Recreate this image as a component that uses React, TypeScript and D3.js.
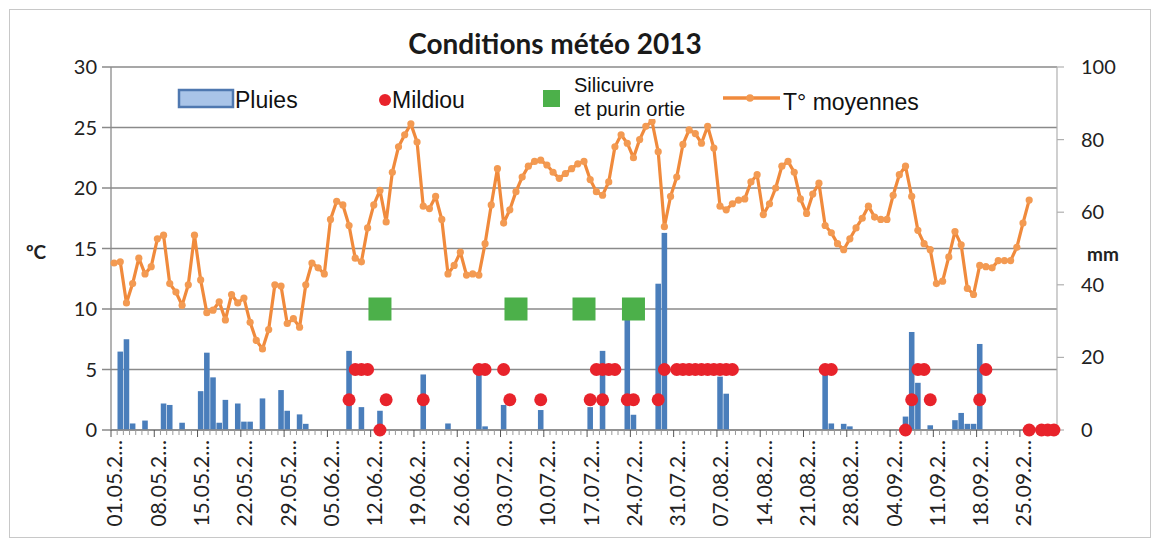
import React from 'react';
import * as d3 from 'd3';

// ---- data ----
const startYear = 2013;
const startMonth = 4; // May (0-based)
const startDay = 1;
const nDays = 153; // 01.05 -> 30.09

// daily mean temperature (°C), from 01.05
const temperatures = [
  13.8, 13.9, 10.5, 12.1, 14.2, 12.9, 13.5, 15.8, 16.1, 12.1,
  11.4, 10.3, 12.0, 16.1, 12.4, 9.7, 9.9, 10.6, 9.1, 11.2,
  10.5, 10.9, 8.9, 7.4, 6.7, 8.3, 12.0, 11.9, 8.8, 9.2,
  8.5, 12.0, 13.8, 13.4, 12.9, 17.4, 18.9, 18.6, 16.9, 14.2,
  13.9, 16.7, 18.6, 19.8, 17.2, 21.3, 23.4, 24.4, 25.3, 23.8,
  18.5, 18.3, 19.3, 17.4, 12.9, 13.6, 14.7, 12.8, 12.9, 12.8,
  15.4, 18.6, 21.6, 17.1, 18.2, 19.7, 20.9, 21.8, 22.2, 22.3,
  21.9, 21.3, 20.8, 21.2, 21.6, 22.0, 22.2, 20.7, 19.7, 19.4,
  20.5, 23.4, 24.4, 23.7, 22.5, 24.0, 25.1, 25.5, 23.0, 16.8,
  19.3, 20.9, 23.6, 24.8, 24.5, 23.7, 25.1, 23.3, 18.5, 18.2,
  18.7, 19.0, 19.1, 20.5, 21.1, 17.8, 18.7, 20.0, 21.8, 22.2,
  21.3, 19.1, 17.9, 19.5, 20.4, 16.9, 16.3, 15.4, 14.9, 15.8,
  16.7, 17.5, 18.5, 17.6, 17.4, 17.4, 19.4, 21.1, 21.8, 19.3,
  16.5, 15.4, 14.9, 12.1, 12.3, 14.3, 16.4, 15.3, 11.7, 11.2,
  13.6, 13.5, 13.4, 14.0, 14.0, 14.0, 15.1, 17.1, 19.0,
];

// rain (mm): day index and amount
const rainDays = [
  1, 2, 3, 5, 8, 9, 11, 14, 15, 16, 17, 18, 20, 21, 22, 24, 27, 28, 30, 31,
  38, 40, 43, 50, 54, 59, 60, 63, 69, 77, 79, 83, 84, 88, 89, 98, 99,
  115, 116, 118, 119, 128, 129, 130, 132, 136, 137, 138, 139, 140,
];
const rainMm = [
  21.6, 25.0, 1.8, 2.6, 7.3, 6.9, 2.0, 10.7, 21.3, 14.5, 2.0, 8.3, 7.3, 2.3, 2.3, 8.7, 11.0, 5.3, 4.3, 1.7,
  21.8, 6.3, 5.3, 15.3, 1.8, 15.3, 1.0, 6.9, 5.5, 6.3, 21.8, 31.7, 4.2, 40.3, 54.3, 14.7, 10.0,
  16.7, 1.8, 1.7, 1.0, 3.7, 27.0, 13.0, 1.3, 2.7, 4.7, 1.7, 1.7, 23.7,
];

// mildiou events (day index, level on °C axis)
const mildiouDays = [
  38, 39, 40, 41, 43, 44, 50, 59, 60, 63, 64, 69, 77, 78, 79, 79, 80, 81, 83, 84, 88, 89,
  91, 92, 93, 94, 95, 96, 97, 98, 99, 100, 115, 116, 128, 129, 130, 131, 132, 140, 141,
  148, 150, 151, 152,
];
const mildiouLevels = [
  2.5, 5, 5, 5, 0, 2.5, 2.5, 5, 5, 5, 2.5, 2.5, 2.5, 5, 5, 2.5, 5, 5, 2.5, 2.5, 2.5, 5,
  5, 5, 5, 5, 5, 5, 5, 5, 5, 5, 5, 5, 0, 2.5, 5, 5, 2.5, 2.5, 5,
  0, 0, 0, 0,
];

// silicuivre et purin ortie treatments
const silicuivreDays = [43, 65, 76, 84];
const silicuivreLevel = 10;

const leftTicks = [0, 5, 10, 15, 20, 25, 30];
const rightTicks = [0, 20, 40, 60, 80, 100];
const labelEvery = 7;

const title = 'Conditions météo 2013';
const legendLabels = ['Pluies', 'Mildiou', 'Silicuivre', 'et purin ortie', 'T° moyennes'];

const pad2 = (n: number) => (n < 10 ? '0' + n : '' + n);

export default function App() {
  const W = 1160;
  const H = 547;
  const L = 111, R = 1057, T = 67, B = 430;

  const days = d3.range(nDays);
  const x = d3.scaleBand<number>().domain(days).range([L, R]).paddingInner(0.1).paddingOuter(0.05);
  const cx = (i: number) => (x(i) as number) + x.bandwidth() / 2;
  const yT = d3.scaleLinear().domain([0, 30]).range([B, T]);
  const yR = d3.scaleLinear().domain([0, 100]).range([B, T]);

  const line = d3.line<number>().x((_, i) => cx(i)).y((d) => yT(d));

  const dateOf = (i: number) => new Date(startYear, startMonth, startDay + i);

  const orange = '#F08A3C';
  const orangeMarker = '#F39A52';
  const blue = '#4A7EBB';
  const red = '#E8232B';
  const green = '#4CB04A';
  const grid = '#8a8a8a';
  const labelFont = 'Lato, "Open Sans", sans-serif';
  const legendFont = '"Liberation Sans", Arial, sans-serif';

  return (
    <svg width={W} height={H} style={{ position: 'absolute', left: 0, top: 0, background: '#fff' }}>
      <rect x={0} y={0} width={W} height={H} fill="#fff" />
      <rect x={9.5} y={9.5} width={1141} height={528} fill="none" stroke="#c8c8c8" />

      {/* title */}
      <text x={555} y={54} textAnchor="middle" fontFamily={labelFont} fontWeight="bold" fontSize={28} fill="#1a1a1a">
        {title}
      </text>

      {/* gridlines */}
      {leftTicks.map((t) => (
        <line key={'g' + t} x1={L - 9} x2={R} y1={yT(t)} y2={yT(t)} stroke={grid} strokeWidth={1.3} />
      ))}
      {/* axis lines */}
      <line x1={L} x2={L} y1={T} y2={B} stroke={grid} strokeWidth={1.3} />
      <line x1={R} x2={R} y1={T} y2={B} stroke="#b0b0b0" strokeWidth={1.2} />
      {rightTicks.map((t) => (
        <line key={'rt' + t} x1={R} x2={R + 7} y1={yR(t)} y2={yR(t)} stroke="#b0b0b0" strokeWidth={1.2} />
      ))}

      {/* tick labels */}
      {leftTicks.map((t) => (
        <text key={'lt' + t} x={97} y={yT(t)} dy="0.35em" textAnchor="end" fontFamily={labelFont} fontSize={20} fill="#222">
          {t}
        </text>
      ))}
      {rightTicks.map((t) => (
        <text key={'rl' + t} x={1081} y={yR(t)} dy="0.35em" textAnchor="start" fontFamily={labelFont} fontSize={20} fill="#222">
          {t}
        </text>
      ))}
      <text x={26} y={252} dy="0.35em" fontFamily={labelFont} fontWeight="bold" fontSize={19} fill="#222">ºC</text>
      <text x={1087} y={254} dy="0.35em" fontFamily={labelFont} fontWeight="bold" fontSize={19} fill="#222">mm</text>

      {/* rain bars */}
      {rainDays.map((d, k) => (
        <rect key={'r' + d} x={x(d)} y={yR(rainMm[k])} width={x.bandwidth()} height={B - yR(rainMm[k])} fill={blue} />
      ))}

      {/* x axis */}
      <line x1={L} x2={R} y1={B} y2={B} stroke={grid} strokeWidth={1.3} />
      {days.map((i) => (
        <line key={'mt' + i} x1={L + i * x.step()} x2={L + i * x.step()} y1={B} y2={B + (i % labelEvery === 0 ? 7 : 5)} stroke={i % labelEvery === 0 ? '#555' : '#9a9a9a'} strokeWidth={1} />
      ))}
      {days.filter((i) => i % labelEvery === 0).map((i) => {
        const d = dateOf(i);
        const lab = pad2(d.getDate()) + '.' + pad2(d.getMonth() + 1) + '.2…';
        return (
          <text key={'xl' + i} transform={`translate(${cx(i) + 1},440) rotate(-90)`} textAnchor="end" dy="0.35em" fontFamily={labelFont} fontSize={21} fill="#222">
            {lab}
          </text>
        );
      })}

      {/* temperature line */}
      <path d={line(temperatures) as string} fill="none" stroke={orange} strokeWidth={3.2} strokeLinejoin="round" />
      {temperatures.map((t, i) => (
        <circle key={'tp' + i} cx={cx(i)} cy={yT(t)} r={3.6} fill={orangeMarker} />
      ))}

      {/* silicuivre squares */}
      {silicuivreDays.map((d) => (
        <rect key={'s' + d} x={cx(d) - 11.5} y={yT(silicuivreLevel) - 11.5} width={23} height={23} fill={green} />
      ))}

      {/* mildiou dots */}
      {mildiouDays.map((d, k) => (
        <circle key={'m' + k} cx={cx(d)} cy={yT(mildiouLevels[k])} r={6.5} fill={red} />
      ))}

      {/* legend */}
      <rect x={160} y={78} width={780} height={41} fill="#fff" />
      <rect x={179} y={90} width={54} height={17} fill="#a9c4e8" stroke="#4F78B0" strokeWidth={2.5} />
      <text x={235} y={108} fontFamily={legendFont} fontSize={23} fill="#111">{legendLabels[0]}</text>
      <circle cx={385} cy={100} r={6} fill={red} />
      <text x={392} y={108} fontFamily={legendFont} fontSize={23} fill="#111">{legendLabels[1]}</text>
      <rect x={543} y={90} width={17} height={17} fill={green} />
      <text x={574} y={92} fontFamily={legendFont} fontSize={20} fill="#111">{legendLabels[2]}</text>
      <text x={574} y={116} fontFamily={legendFont} fontSize={20} fill="#111">{legendLabels[3]}</text>
      <line x1={723} x2={780} y1={98} y2={98} stroke={orange} strokeWidth={3.5} />
      <circle cx={750} cy={98} r={3.8} fill={orangeMarker} />
      <text x={783} y={110} fontFamily={legendFont} fontSize={23} fill="#111">{legendLabels[4]}</text>
    </svg>
  );
}
